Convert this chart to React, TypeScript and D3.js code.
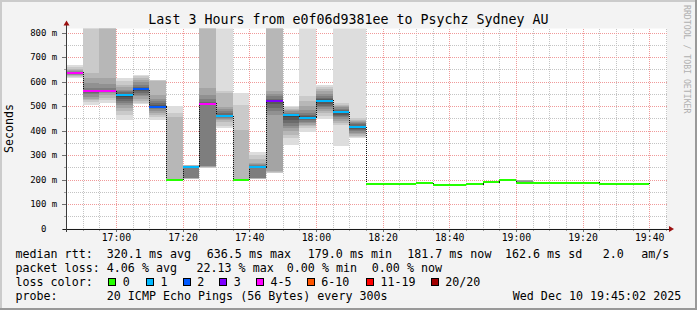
import React from 'react';
import * as d3 from 'd3';

// ---------- data ----------
const START = new Date(2025, 11, 10, 16, 45, 2);
const END = new Date(2025, 11, 10, 19, 45, 2);
const FIRST_STEP = new Date(2025, 11, 10, 16, 45, 0);
const STEP_MIN = 5;
const Y_MAX = 817;

// median rtt (ms) per 5-minute step
const medians = [636, 563, 563, 544, 569, 498, 200, 252, 509, 460, 197, 251, 521, 464, 453, 521, 475, 413,
  181, 181, 182, 187, 178, 178, 181, 189, 197, 187, 187, 187, 187, 187, 183, 180, 182];
// lost pings (of 20) per step
const losses = [4, 4, 5, 1, 2, 2, 0, 1, 4, 1, 0, 1, 3, 1, 1, 1, 1, 1,
  0, 0, 0, 0, 0, 0, 0, 0, 0, 0, 0, 0, 0, 0, 0, 0, 0];
// successful ping rtts (ms) per step
const pings: number[][] = [
  [615, 618, 622, 626, 629, 632, 634, 635, 637, 638, 641, 645, 649, 653, 658, 667],
  [503, 517, 526, 530, 538, 548, 555, 560, 563, 566, 574, 594, 615, 635, 900, 950],
  [513, 525, 533, 545, 552, 558, 561, 563, 567, 575, 590, 615, 900, 950, 1000],
  [443, 465, 480, 493, 505, 513, 522, 530, 537, 544, 548, 551, 556, 562, 567, 578, 588, 601, 614],
  [508, 514, 522, 530, 540, 547, 555, 560, 565, 569, 572, 576, 587, 597, 608, 616, 622, 628],
  [444, 455, 465, 472, 480, 487, 492, 495, 497, 499, 505, 513, 520, 530, 547, 604, 606, 608],
  [196, 197, 198, 199, 199, 200, 200, 200, 200, 200, 201, 201, 201, 202, 202, 203, 204, 456, 470, 500],
  [201, 202, 204, 205, 205, 206, 248, 250, 251, 252, 253, 254, 255, 256, 257, 257, 258, 259, 260],
  [246, 248, 250, 252, 254, 256, 505, 508, 510, 515, 530, 545, 573, 900, 950, 1000],
  [409, 420, 436, 442, 448, 452, 455, 457, 459, 460, 462, 465, 470, 480, 490, 497, 552, 560, 900],
  [194, 195, 196, 196, 196, 197, 197, 197, 197, 197, 197, 197, 198, 198, 198, 199, 200, 402, 504, 552],
  [202, 203, 204, 205, 206, 207, 246, 249, 250, 251, 252, 253, 256, 259, 262, 268, 285, 301, 314],
  [225, 228, 232, 235, 465, 480, 492, 510, 521, 524, 530, 540, 550, 560, 900, 950, 1000],
  [342, 370, 383, 400, 410, 420, 431, 445, 455, 464, 466, 467, 469, 472, 478, 484, 490, 495, 499],
  [393, 410, 418, 424, 430, 436, 442, 447, 450, 453, 456, 459, 465, 472, 485, 499, 520, 540, 900],
  [447, 460, 470, 479, 488, 495, 499, 508, 515, 521, 524, 528, 533, 540, 550, 560, 570, 580, 588],
  [338, 424, 432, 438, 446, 454, 460, 465, 470, 475, 478, 481, 485, 490, 495, 499, 505, 513, 900],
  [368, 372, 377, 385, 392, 397, 402, 407, 410, 413, 416, 420, 425, 430, 436, 440, 445, 451, 900],
  [180, 182],
  [180, 182],
  [181, 183],
  [186, 188],
  [177, 179],
  [177, 179],
  [179, 183],
  [187, 191],
  [195, 196, 197, 198, 199, 200],
  [185, 186, 186, 186, 187, 187, 187, 187, 187, 187, 187, 187, 188, 188, 188, 196, 197, 197, 198, 199],
  [186, 188],
  [186, 188],
  [186, 188],
  [186, 188],
  [181, 185],
  [178, 182],
  [181, 183],
];

const yTicks = [0, 100, 200, 300, 400, 500, 600, 700, 800];
const yTickLabels = ['  0', '100 m', '200 m', '300 m', '400 m', '500 m', '600 m', '700 m', '800 m'];
const yMinorTicks = [50, 150, 250, 350, 450, 550, 650, 750];
const xTickLabels = ['17:00', '17:20', '17:40', '18:00', '18:20', '18:40', '19:00', '19:20', '19:40'];

const lossLabels = ['0', '1', '2', '3', '4-5', '6-10', '11-19', '20/20'];
const lossUpper = [0, 1, 2, 3, 5, 10, 19, 20];
const lossColors = ['#26ff00', '#00b8ff', '#0059ff', '#7e00ff', '#ff00ff', '#ff5500', '#ff0000', '#a10000'];

const title = 'Last 3 Hours from e0f06d9381ee to Psychz Sydney AU';
const legendLine1: [string, number][] = [['median rtt:', 15.5], ['320.1 ms avg', 106.8], ['636.5 ms max', 206.8],
  ['179.0 ms min', 307.8], ['181.7 ms now', 407.2], ['162.6 ms sd', 505], ['2.0', 602.8], ['am/s', 641.2]];
const legendLine2: [string, number][] = [['packet loss:', 15.5], ['4.06 % avg', 106.8], ['22.13 % max', 196.5],
  ['0.00 % min', 286.8], ['0.00 % now', 371.8]];
const legendBoxX = [108.3, 146, 182.7, 219.3, 256, 306.7, 366, 430.7];
const legendLine4: [string, number][] = [['probe:', 15.5], ['20 ICMP Echo Pings (56 Bytes) every 300s', 106.8],
  ['Wed Dec 10 19:45:02 2025', 512.8]];

// ---------- layout ----------
const W = 697, H = 310;
const X0 = 66, X1 = 666, YB = 228.5, YT = 28.5;
const MONO = '"DejaVu Sans Mono", monospace';

function lossColor(l: number) {
  const idx = lossUpper.findIndex((u) => l <= u);
  return lossColors[idx < 0 ? lossColors.length - 1 : idx];
}

function parseHM(s: string) {
  const [h, m] = s.split(':').map(Number);
  return new Date(2025, 11, 10, h, m, 0);
}

export default function App() {
  const x = d3.scaleTime().domain([START, END]).range([X0, X1]);
  const y = d3.scaleLinear().domain([0, Y_MAX]).range([YB, YT]);

  const cols = medians.map((m, i) => {
    const t0 = d3.timeMinute.offset(FIRST_STEP, i * STEP_MIN);
    const t1 = d3.timeMinute.offset(t0, STEP_MIN);
    return { m, l: losses[i], ps: d3.sort(pings[i]), xa: Math.round(x(t0)), xb: Math.round(x(t1)) };
  });

  const majorTimes = xTickLabels.map(parseHM);
  const majorSet = new Set(majorTimes.map((d) => d.getTime()));
  const minorTimes = d3.timeMinute.every(5)!.range(d3.timeMinute.offset(START, 1), d3.timeSecond.offset(END, 1))
    .filter((d) => !majorSet.has(d.getTime()));

  const px = (v: number) => Math.round(v) + 0.5;

  const stepPts: [number, number][] = cols.map((c) => [c.xa, y(c.m)]);
  stepPts.push([cols[cols.length - 1].xb, y(cols[cols.length - 1].m)]);
  const stepPath = d3.line().curve(d3.curveStepAfter)(stepPts) || '';

  const gridGray = '#c4c4c4';
  const gridRed = '#f09a9a';

  return (
    <svg width={W} height={H} style={{ position: 'absolute', left: 0, top: 0, display: 'block' }}
      fontFamily={MONO}>
      <defs>
        <clipPath id="plot">
          <rect x={X0} y={YT} width={X1 - X0} height={YB - YT} />
        </clipPath>
      </defs>
      <rect x={0} y={0} width={W} height={H} fill="#f3f3f3" />
      {/* shade border */}
      <rect x={0} y={0} width={W} height={2} fill="#cbcbcb" />
      <rect x={0} y={0} width={2} height={H} fill="#cbcbcb" />
      <rect x={0} y={H - 2} width={W} height={2} fill="#999999" />
      <rect x={W - 2} y={0} width={2} height={H} fill="#999999" />

      <rect x={X0} y={YT} width={X1 - X0 + 1} height={YB - YT} fill="#ffffff" />

      {/* grid */}
      <g shapeRendering="crispEdges" strokeWidth={1} strokeDasharray="1,1">
        {yMinorTicks.map((v) => (
          <line key={'hm' + v} x1={X0} x2={X1 + 2} y1={px(y(v))} y2={px(y(v))} stroke={gridGray} />
        ))}
        {minorTimes.map((t) => (
          <line key={'vm' + t.getTime()} x1={px(x(t))} x2={px(x(t))} y1={YT} y2={YB} stroke={gridGray} />
        ))}
        {yTicks.filter((v) => v > 0).map((v) => (
          <line key={'hM' + v} x1={X0} x2={X1 + 2} y1={px(y(v))} y2={px(y(v))} stroke={gridRed} />
        ))}
        {majorTimes.map((t) => (
          <line key={'vM' + t.getTime()} x1={px(x(t))} x2={px(x(t))} y1={YT} y2={YB} stroke={gridRed} />
        ))}
      </g>
      {/* ticks */}
      <g shapeRendering="crispEdges" strokeWidth={1}>
        {yTicks.map((v) => (
          <line key={'tk' + v} x1={X0 - 4} x2={X0} y1={px(y(v))} y2={px(y(v))} stroke="#707070" />
        ))}
        {yMinorTicks.map((v) => (
          <line key={'tkm' + v} x1={X0 - 2} x2={X0} y1={px(y(v))} y2={px(y(v))} stroke="#a0a0a0" />
        ))}
        {majorTimes.map((t) => (
          <line key={'txM' + t.getTime()} x1={px(x(t))} x2={px(x(t))} y1={YB} y2={YB + 3} stroke="#707070" />
        ))}
        {minorTimes.map((t) => (
          <line key={'txm' + t.getTime()} x1={px(x(t))} x2={px(x(t))} y1={YB} y2={YB + 2} stroke="#a0a0a0" />
        ))}
      </g>

      {/* smoke */}
      <g clipPath="url(#plot)" shapeRendering="crispEdges">
        {cols.map((c, i) => {
          const n = c.ps.length;
          const out = [];
          for (let k = 0; k < Math.floor(n / 2); k++) {
            const lo = c.ps[k], hi = c.ps[n - 1 - k];
            const g = Math.round((190 / 10) * (10 - (k + 1)) + 50);
            const ya = Math.round(y(hi)), yb = Math.round(y(lo));
            if (yb - ya <= 0) continue;
            out.push(<rect key={i + '-' + k} x={c.xa} width={c.xb - c.xa} y={ya} height={yb - ya}
              fill={`rgb(${g},${g},${g})`} />);
          }
          return <g key={'c' + i}>{out}</g>;
        })}
        <path d={stepPath} fill="none" stroke="#111" strokeWidth={1} strokeDasharray="1,1"
          transform="translate(0.5,0)" />
        {cols.map((c, i) => (
          <rect key={'m' + i} x={c.xa} width={c.xb - c.xa} y={Math.round(y(c.m) - 1)} height={2}
            fill={lossColor(c.l)} />
        ))}
      </g>

      {/* axes */}
      <g shapeRendering="crispEdges">
        <line x1={X0 - 3} x2={X1 + 4} y1={YB + 0.5} y2={YB + 0.5} stroke="#1a1a1a" strokeWidth={1} />
        <line x1={X0 + 0.5} x2={X0 + 0.5} y1={YB + 3} y2={YT - 4} stroke="#3a3a3a" strokeWidth={1} />
      </g>
      <path d={`M${X1 + 3},${YB - 2.5} L${X1 + 8},${YB + 0.5} L${X1 + 3},${YB + 3.5} Z`} fill="#9b1010" />
      <path d={`M${X0 - 2.5},${YT - 3} L${X0 + 0.5},${YT - 8} L${X0 + 3.5},${YT - 3} Z`} fill="#9b1010" />

      {/* tick labels */}
      <g fontSize={9} fill="#000">
        {yTicks.map((v, i) => (
          <text key={'yl' + v} x={30.2} y={y(v) + 3.3} xmlSpace="preserve" style={{ whiteSpace: 'pre' }}>
            {yTickLabels[i]}
          </text>
        ))}
      </g>
      <g fontSize={9.8} fill="#000" textAnchor="middle">
        {majorTimes.map((t, i) => (
          <text key={'xl' + i} x={x(t) + 0.5} y={241}>{xTickLabels[i]}</text>
        ))}
      </g>

      {/* title & labels */}
      <text x={348.5} y={24} fontSize={13.3} textAnchor="middle" fill="#000">{title}</text>
      <text transform={`translate(13.3,${(YT + YB) / 2}) rotate(-90)`} fontSize={11.6} textAnchor="middle"
        fill="#000">Seconds</text>
      <text transform="translate(683.5,5) rotate(90)" fontSize={8.2} fill="#b0b0b0">RRDTOOL / TOBI OETIKER</text>

      {/* legend */}
      <g fontSize={11.66} fill="#000" xmlSpace="preserve" style={{ whiteSpace: 'pre' }}>
        {legendLine1.map(([t, lx], i) => <text key={'l1' + i} x={lx} y={258.3}>{t}</text>)}
        {legendLine2.map(([t, lx], i) => <text key={'l2' + i} x={lx} y={272.3}>{t}</text>)}
        <text x={15.5} y={286.3}>loss color:</text>
        {lossLabels.map((lab, i) => (
          <g key={'lb' + i}>
            <rect x={legendBoxX[i] + 0.5} y={278.5} width={7} height={7} fill={lossColors[i]} stroke="#000"
              strokeWidth={1} shapeRendering="crispEdges" />
            <text x={legendBoxX[i] + 14.5} y={286.3}>{lab}</text>
          </g>
        ))}
        {legendLine4.map(([t, lx], i) => <text key={'l4' + i} x={lx} y={300.3}>{t}</text>)}
      </g>
    </svg>
  );
}
